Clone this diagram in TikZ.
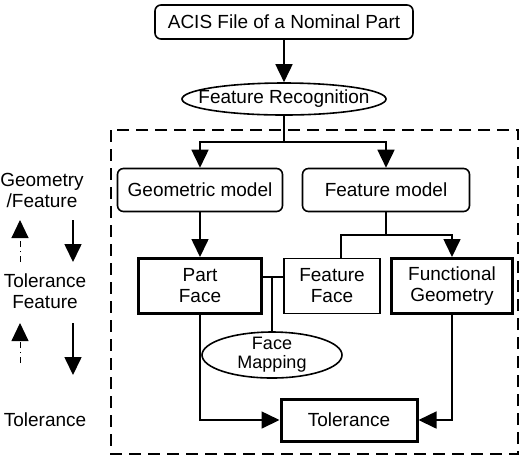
\documentclass[tikz,border=0pt]{standalone}
\usepackage{fontspec}
\setmainfont{Liberation Sans}
\usetikzlibrary{arrows.meta,shapes.geometric}

\begin{document}
\begin{tikzpicture}[
		x=0.5pt, y=-0.5pt,
		font=\fontsize{9.5}{10.5}\selectfont,
		rbox/.style={rectangle, draw, line width=0.8pt, rounded corners=3pt, minimum width=#1, minimum height=21.5pt, inner sep=1pt, align=center},
		sbox/.style={rectangle, draw, line width=#1, minimum height=27.5pt, inner sep=1pt, align=center},
		tbox/.style={rectangle, draw, line width=1.5pt, minimum width=68pt, minimum height=21pt, inner sep=1pt},
		oval/.style={ellipse, draw, line width=0.8pt, inner sep=0pt, align=center},
		side/.style={align=center, inner sep=1pt},
		frame/.style={dash pattern=on 6pt off 3.5pt, line width=1pt},
		arrow/.style={-{Triangle[length=9pt, width=8.5pt]}, line width=0.8pt},
		back/.style={-{Triangle[length=9pt, width=8.5pt]}, line width=0.5pt, dash dot}
		]
		\useasboundingbox (0,0) rectangle (522,457);
		
		%==================== Nodes ====================%
		\node[rbox=129pt, minimum height=17pt] (acis) at (284,22) {ACIS File of a Nominal Part};
		\node[oval, minimum width=102pt, minimum height=16pt, inner xsep=-8pt] (recog) at (284,99) {Feature Recognition};
		
		\node[rbox=82.5pt] (geom) at (200,190) {Geometric model};
		\node[rbox=83.5pt] (featm) at (386,190) {Feature model};
		
		\node[sbox=1.5pt, minimum width=61.5pt] (partface) at (200,286) {Part\\Face};
		\node[sbox=0.8pt, minimum width=48pt] (featface) at (332,286) {Feature\\Face};
		\node[sbox=1.5pt, minimum width=60.5pt] (funcgeo) at (452,286) {Functional\\Geometry};
		
		\node[oval, minimum width=70pt, minimum height=23pt, inner ysep=-3pt, font=\fontsize{9}{9.5}\selectfont] (mapping) at (272,355) {Face\\Mapping};
		\node[tbox] (tol) at (349,420) {Tolerance};
		
		% levels on the left
		\node[side] (geofeat) at (42,190) {Geometry\\/Feature};
		\node[side] (tolfeat) at (45,291) {Tolerance\\Feature};
		\node[side] (tolside) at (45,420) {Tolerance};
		
		\coordinate (split) at (284,142);
		\coordinate (fork) at (386,235);
		\coordinate (tee) at (272,277);
		\coordinate (upA) at (20,262);
		\coordinate (upB) at (20,220);
		\coordinate (downA) at (73,220);
		\coordinate (downB) at (73,262);
		\coordinate (upC) at (20,363);
		\coordinate (upD) at (20,323);
		\coordinate (downC) at (73,323);
		\coordinate (downD) at (73,375);
		
		%==================== Arrows ====================%
		\draw[frame] (111,130) rectangle (518,454);
		
		\draw[arrow] (acis) -- (recog);
		\draw[line width=0.8pt] (recog.south) -- (split);
		\draw[arrow] (split) -| (geom.north);
		\draw[arrow] (split) -| (featm.north);
		
		\draw[arrow] (geom) -- (partface);
		\draw[line width=0.8pt] (featm.south) -- (fork);
		\draw[line width=0.8pt] (fork) -| ([xshift=4.5pt]featface.north);
		\draw[arrow] (fork) -| (funcgeo.north);
		
		\draw[line width=0.8pt] ([yshift=4.5pt]partface.east) -- ([yshift=4.5pt]featface.west);
		\draw[line width=0.8pt] (tee) -- (mapping.north);
		
		\draw[arrow] (partface.south) |- (tol.west);
		\draw[arrow] (funcgeo.south) |- (tol.east);
		
		% direction marks
		\draw[back] (upA) -- (upB);
		\draw[arrow] (downA) -- (downB);
		\draw[back] (upC) -- (upD);
		\draw[arrow] (downC) -- (downD);
		
	\end{tikzpicture}
\end{document}
